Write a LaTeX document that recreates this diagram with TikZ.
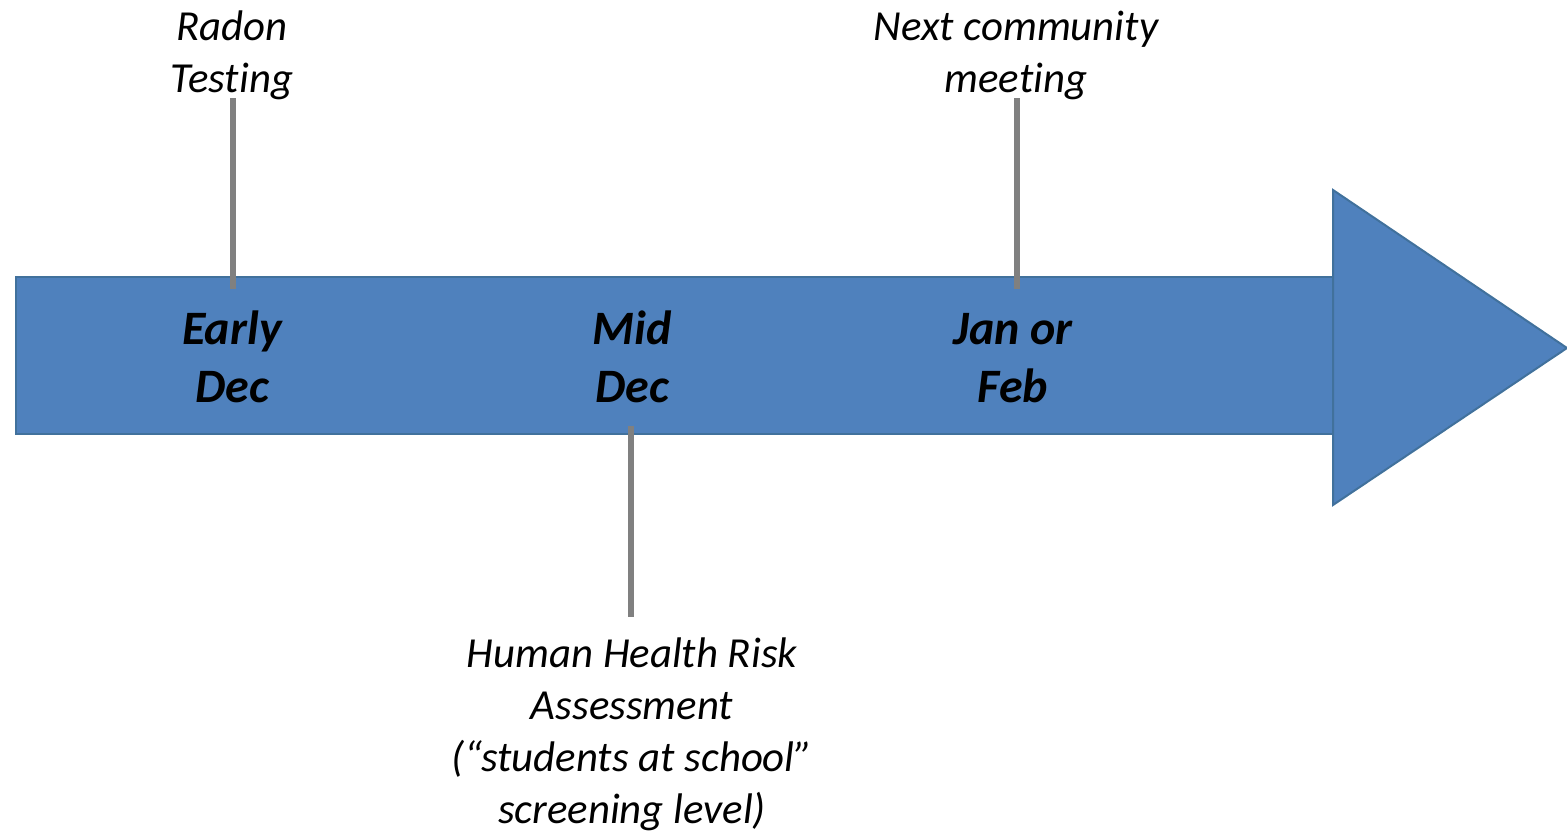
\documentclass[tikz,border=0pt]{standalone}
\usepackage{fontspec}
\setmainfont{Carlito}[Ligatures=NoCommon]
\definecolor{arrowfill}{HTML}{4F81BD}
\definecolor{arrowedge}{HTML}{41719C}
\definecolor{tick}{HTML}{808080}
\begin{document}
\begin{tikzpicture}[x=0.5pt,y=-0.5pt,
  shaft/.style={fill=arrowfill,draw=arrowedge,line width=1pt},
  ticker/.style={draw=tick,line width=2.7pt},
  event/.style={align=center,inner sep=0pt,font=\fontsize{21.4}{26}\selectfont\itshape},
  date/.style={align=center,inner sep=0pt,font=\fontsize{24}{29}\selectfont\bfseries\itshape}]
\useasboundingbox (0,0) rectangle (1567,831);
\path[shaft] (16,277) rectangle (1333,434);
\path[shaft] (1333,190) -- (1567,348) -- (1333,505) -- cycle;
% dates
\node[date] (early) at (232,357) {Early\\Dec};
\node[date] (mid) at (632,357) {Mid\\Dec};
\node[date] (jan) at (1013,358) {Jan or\\Feb};
% events
\node[event] (radon) at (232,55) {Radon\\Testing};
\node[event] (next) at (1016,55) {Next community\\meeting};
\node[event] (hhra) at (632,734) {Human Health Risk\\Assessment\\(“students at school”\\screening level)};
% tick connectors
\coordinate (radonbot) at (233,98);
\coordinate (radonaxis) at (233,289);
\coordinate (nextbot) at (1017,98);
\coordinate (nextaxis) at (1017,289);
\coordinate (midaxis) at (631,426);
\coordinate (hhratop) at (631,617);
\draw[ticker] (radonbot) -- (radonaxis);
\draw[ticker] (nextbot) -- (nextaxis);
\draw[ticker] (midaxis) -- (hhratop);
\end{tikzpicture}
\end{document}
